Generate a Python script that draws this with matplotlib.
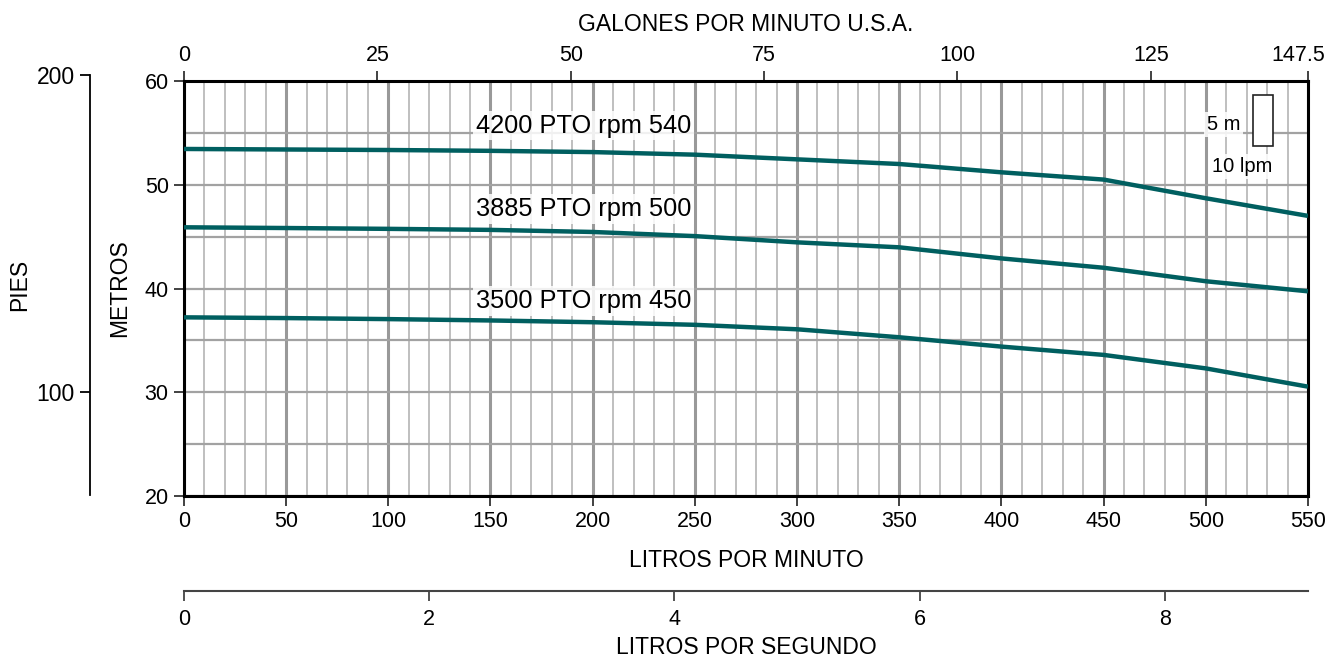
import numpy as np
import matplotlib
matplotlib.use("Agg")
import matplotlib.pyplot as plt
from matplotlib.patches import Rectangle
from matplotlib.transforms import ScaledTranslation

plt.rcParams['font.family'] = ['Liberation Sans', 'DejaVu Sans']

# caudal en litros por minuto
lpm = [0, 50, 100, 150, 200, 250, 300, 350, 400, 450, 500, 550]
# altura en metros para cada velocidad
h_540 = [53.45, 53.4, 53.35, 53.27, 53.15, 52.9, 52.45, 52.0, 51.2, 50.5, 48.7, 47.0]
h_500 = [45.9, 45.83, 45.75, 45.65, 45.45, 45.05, 44.45, 43.97, 42.9, 42.0, 40.7, 39.73]
h_450 = [37.22, 37.15, 37.05, 36.92, 36.75, 36.5, 36.07, 35.3, 34.4, 33.6, 32.3, 30.54]
curve_labels = ["4200 PTO rpm 540", "3885 PTO rpm 500", "3500 PTO rpm 450"]
label_pos = [(143, 55.7), (143, 47.65), (143, 38.8)]

x_ticks = [0, 50, 100, 150, 200, 250, 300, 350, 400, 450, 500, 550]
y_ticks = [20, 30, 40, 50, 60]
gpm_ticks = [0, 25, 50, 75, 100, 125, 550 / 3.785]
gpm_labels = ["0", "25", "50", "75", "100", "125", "147.5"]
lps_ticks = [0, 2, 4, 6, 8]
ft_ticks = [100, 200]

teal = "#005f60"
fs_tick = 15.5
fs_lab = 16.5
fs_curve = 18.3

fig = plt.figure(figsize=(13.33, 6.63), dpi=100)
ax = fig.add_axes([0.138, 0.2519, 0.8432, 0.6259])

ax.set_xlim(0, 550)
ax.set_ylim(20, 60)
ax.set_xticks(x_ticks)
ax.set_xticks(np.arange(0, 551, 10), minor=True)
ax.set_yticks(y_ticks)
ax.set_yticks([25, 35, 45, 55], minor=True)
ax.set_xticklabels([str(v) for v in x_ticks])

ax.grid(which='minor', axis='x', color='#b4b4b4', linewidth=1.2, zorder=0)
ax.grid(which='major', axis='x', color='#999999', linewidth=2.2, zorder=0)
ax.grid(which='both', axis='y', color='#a2a2a2', linewidth=1.6, zorder=0)
ax.set_axisbelow(True)

ax.tick_params(which='minor', length=0)
ax.tick_params(which='major', length=7, width=1.3, color='#333333', labelsize=fs_tick, pad=4)
for s in ax.spines.values():
    s.set_linewidth(2.2)
    s.set_color('black')

for h in (h_540, h_500, h_450):
    ax.plot(lpm, h, color=teal, linewidth=3.2, zorder=3, solid_capstyle='butt')

for txt, (tx, ty) in zip(curve_labels, label_pos):
    ax.text(tx, ty, txt, fontsize=fs_curve, va='center', ha='left', zorder=4,
            bbox=dict(facecolor='white', alpha=0.85, edgecolor='none', pad=2))

# escala de referencia 10 lpm x 5 m
ax.add_patch(Rectangle((523, 53.7), 10, 5, facecolor='white', edgecolor='#222222',
                       linewidth=1.2, zorder=4))
ax.text(517, 55.8, "5 m", fontsize=14.5, ha='right', va='center', zorder=4,
        bbox=dict(facecolor='white', alpha=0.85, edgecolor='none', pad=2))
ax.text(518, 51.75, "10 lpm", fontsize=14.5, ha='center', va='center', zorder=4,
        bbox=dict(facecolor='white', alpha=0.85, edgecolor='none', pad=2))

ax.set_xlabel("LITROS POR MINUTO", fontsize=fs_lab, labelpad=12)
ax.set_ylabel("METROS", fontsize=fs_lab, labelpad=10)

# galones por minuto arriba
top = ax.secondary_xaxis('top', functions=(lambda x: x / 3.785, lambda g: g * 3.785))
top.set_xticks(gpm_ticks, gpm_labels)
top.tick_params(length=7, width=1.3, color='#333333', labelsize=fs_tick, pad=4)
top.set_xlabel("GALONES POR MINUTO U.S.A.", fontsize=fs_lab, labelpad=10)
top.spines['top'].set_visible(False)
last = top.xaxis.get_major_ticks()[-1].label2
last.set_transform(last.get_transform() + ScaledTranslation(-0.10, 0, fig.dpi_scale_trans))

# litros por segundo abajo
bot = ax.secondary_xaxis(-0.229, functions=(lambda x: x / 60, lambda s: s * 60))
bot.set_xticks(lps_ticks, [str(v) for v in lps_ticks])
bot.tick_params(length=7, width=1.3, color='#444444', labelsize=fs_tick, pad=6)
bot.spines['bottom'].set_color('#444444')
bot.spines['bottom'].set_linewidth(1.5)
bot.set_xlabel("LITROS POR SEGUNDO", fontsize=fs_lab, labelpad=4)

# pies a la izquierda
axf = fig.add_axes([90 / 1333, 1 - 495 / 663, 0.001, 420 / 663])
axf.set_ylim(67.5, 200)
axf.set_yticks(ft_ticks, [str(v) for v in ft_ticks])
axf.set_xticks([])
for k in ('top', 'right', 'bottom'):
    axf.spines[k].set_visible(False)
axf.spines['left'].set_linewidth(1.3)
axf.patch.set_visible(False)
axf.tick_params(length=7, width=1.3, labelsize=16.5, pad=4)
fig.text(20 / 1333, 1 - 285 / 663, "PIES", rotation=90, fontsize=fs_lab, ha='center', va='center')

fig.savefig("out.png", dpi=100)
